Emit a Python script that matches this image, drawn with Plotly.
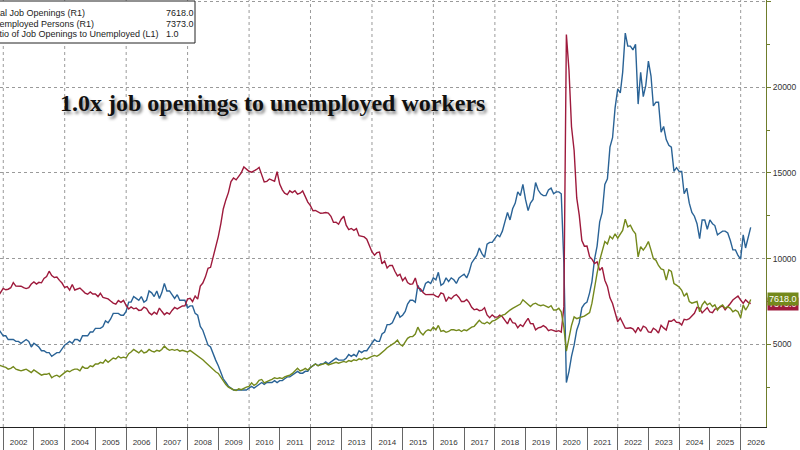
import pandas as pd
import plotly.graph_objects as go

# Monthly observations, Oct 2001 .. Apr 2026 (month-end dates)
dates = pd.date_range("2001-10-31", "2026-04-30", freq="ME")

job_openings = [
    3850, 3750, 3700,
    3650, 3550, 3600, 3700, 3550, 3500, 3450, 3500, 3550, 3450, 3350, 3500,
    3400, 3350, 3200, 3250, 3250, 3300, 3050, 3150, 3200, 3100, 3250, 3350,
    3450, 3400, 3500, 3550, 3550, 3450, 3700, 3600, 3600, 3750, 3700, 3850,
    3850, 3950, 3900, 4100, 3950, 4050, 4200, 4150, 4300, 4200, 4250, 4200,
    4450, 4550, 4700, 4600, 4500, 4650, 4500, 4550, 4700, 4600, 4550, 4650,
    4600, 4700, 4900, 4750, 4650, 4700, 4650, 4700, 4600, 4650, 4600, 4550,
    4650, 4550, 4450, 4300, 4200, 4100, 3950, 3800, 3700, 3550, 3400, 3300,
    3050, 2850, 2650, 2500, 2400, 2350, 2300, 2400, 2350, 2450, 2500, 2550,
    2750, 2600, 2700, 2900, 2950, 2750, 2850, 2900, 2950, 3050, 3000, 3050,
    3000, 3100, 3150, 3200, 3300, 3450, 3600, 3450, 3500, 3600, 3500, 3650,
    3750, 3850, 3750, 3800, 3850, 3900, 3800, 3850, 3900, 3950, 3900, 3950,
    4000, 3950, 4050, 4000, 4100, 4050, 4150, 4100, 4200, 4150, 4250, 4300,
    4350, 4300, 4400, 4500, 4650, 4800, 4900, 5000, 5100, 5250, 5000, 4900,
    5150, 5350, 5450, 5450, 5600, 6000, 5700, 5550, 5750, 5850, 5800, 6000,
    5850, 6100, 5750, 5800, 5700, 5750, 5850, 5850, 5800, 5850, 5750, 5850,
    5800, 5900, 6000, 6050, 6200, 6400, 6250, 6200, 6300, 6200, 6350, 6400,
    6500, 6600, 6700, 6750, 6900, 7000, 7100, 7200, 7300, 7350, 7600, 7450,
    7300, 7200, 7350, 7400, 7300, 7250, 7300, 7200, 7150, 7250, 7000, 7000,
    7100, 6900, 6000, 4600, 5400, 6100, 6600, 6500, 6550, 6600, 6650, 6750,
    6850, 7400, 8350, 9150, 9900, 10500, 11000, 10850, 11300, 11150, 11450, 11200,
    11450, 11650, 12300, 11850, 11950, 11650, 11450, 10100, 10700, 10500, 10700, 11000,
    10500, 10000, 9900, 9600, 9400, 9350, 8750, 9350, 9250, 8550, 8450, 8350,
    8150, 7800, 8000, 7500, 7400, 7450, 7500, 6900, 7300, 7500, 7300, 7400,
    7200, 7300, 7000, 7200, 7300, 7100, 7200, 7100, 6900, 7000, 6900, 6550,
    7300, 7000, 7250, 7618,
]

unemployed = [
    7800, 8000, 8258,
    8182, 8215, 8304, 8599, 8399, 8393, 8390, 8304, 8251, 8307, 8520, 8640,
    8520, 8618, 8588, 8842, 8957, 9266, 9011, 8896, 8921, 8732, 8576, 8317,
    8370, 8167, 8491, 8170, 8212, 8286, 8136, 7990, 7927, 8061, 7932, 7934,
    7784, 7980, 7737, 7672, 7651, 7524, 7406, 7345, 7553, 7453, 7566, 7279,
    7064, 7184, 7072, 7120, 6980, 7001, 7175, 7091, 6847, 6727, 6872, 6762,
    7116, 6927, 6731, 6850, 6766, 6979, 7149, 7067, 7170, 7237, 7240, 7645,
    7685, 7497, 7822, 7637, 8395, 8575, 8937, 9438, 9494, 10074, 10538, 11286,
    12058, 12898, 13426, 13853, 14499, 14707, 14601, 14814, 15009, 15352, 15219, 15098,
    15046, 15113, 15202, 15325, 14849, 14474, 14512, 14648, 14579, 14516, 15081, 14348,
    14013, 13820, 13737, 13957, 13855, 13962, 13763, 13818, 13948, 13594, 13302, 13093,
    12797, 12813, 12713, 12646, 12660, 12692, 12656, 12471, 12115, 12124, 12005, 12298,
    12471, 11950, 11689, 11760, 11654, 11751, 11335, 11279, 11270, 11136, 10787, 10404,
    10202, 10349, 10380, 9702, 9859, 9460, 9608, 9599, 9262, 8990, 9090, 8717,
    8903, 8610, 8504, 8526, 8875, 8299, 8242, 8016, 7899, 7915, 7927, 7907,
    7815, 7749, 7996, 7938, 7498, 7752, 7651, 7819, 7904, 7734, 7498, 7501,
    7613, 7448, 7164, 7013, 7059, 6965, 6994, 7131, 6714, 6555, 6719, 6592,
    6585, 6705, 6609, 6375, 6191, 6531, 6260, 6218, 5966, 6149, 6039, 6297,
    6520, 6212, 6203, 5846, 5959, 5995, 6087, 5990, 5801, 5855, 5803, 5753,
    5796, 5717, 7185, 23078, 20985, 17697, 16308, 13542, 12535, 11049, 10728, 10736,
    10117, 9975, 9710, 9812, 9316, 9484, 8743, 8382, 7714, 7383, 6856, 6319,
    6535, 6270, 5952, 5938, 5967, 5898, 5693, 5991, 5761, 6059, 5986, 5722,
    5694, 5938, 5839, 5657, 6106, 5957, 5836, 6355, 6347, 6451, 6279, 6270,
    6124, 6458, 6429, 6492, 6649, 6811, 7163, 7115, 6834, 6984, 7142, 6886,
    6849, 7052, 7083, 7166, 7237, 7015, 7236, 7384, 7585, 7700, 7818, 7585,
    7390, 7600, 7450, 7373,
]

ratio = [
    0.49, 0.47, 0.45,
    0.45, 0.43, 0.43, 0.43, 0.42, 0.42, 0.41, 0.42, 0.43, 0.42, 0.39, 0.41,
    0.40, 0.39, 0.37, 0.37, 0.36, 0.36, 0.34, 0.35, 0.36, 0.36, 0.38, 0.40,
    0.41, 0.42, 0.41, 0.43, 0.43, 0.42, 0.45, 0.45, 0.45, 0.47, 0.47, 0.49,
    0.49, 0.49, 0.50, 0.53, 0.52, 0.54, 0.57, 0.57, 0.57, 0.56, 0.56, 0.58,
    0.63, 0.63, 0.66, 0.65, 0.64, 0.66, 0.63, 0.64, 0.69, 0.68, 0.66, 0.69,
    0.65, 0.68, 0.73, 0.69, 0.69, 0.67, 0.65, 0.67, 0.64, 0.64, 0.64, 0.60,
    0.61, 0.61, 0.57, 0.56, 0.50, 0.48, 0.44, 0.40, 0.39, 0.35, 0.32, 0.29,
    0.25, 0.22, 0.20, 0.18, 0.17, 0.16, 0.16, 0.16, 0.16, 0.16, 0.16, 0.17,
    0.18, 0.17, 0.18, 0.19, 0.20, 0.19, 0.20, 0.20, 0.20, 0.21, 0.20, 0.21,
    0.21, 0.22, 0.23, 0.23, 0.24, 0.25, 0.26, 0.25, 0.25, 0.26, 0.26, 0.28,
    0.29, 0.30, 0.29, 0.30, 0.30, 0.31, 0.30, 0.31, 0.32, 0.33, 0.32, 0.32,
    0.32, 0.33, 0.35, 0.34, 0.35, 0.34, 0.37, 0.36, 0.37, 0.37, 0.39, 0.41,
    0.43, 0.42, 0.42, 0.46, 0.47, 0.51, 0.51, 0.52, 0.55, 0.58, 0.55, 0.56,
    0.58, 0.62, 0.64, 0.64, 0.63, 0.72, 0.69, 0.69, 0.73, 0.74, 0.73, 0.76,
    0.75, 0.79, 0.72, 0.73, 0.76, 0.74, 0.76, 0.75, 0.73, 0.76, 0.77, 0.78,
    0.76, 0.79, 0.84, 0.86, 0.88, 0.92, 0.89, 0.87, 0.94, 0.95, 0.95, 0.97,
    0.99, 0.98, 1.01, 1.06, 1.11, 1.07, 1.13, 1.16, 1.22, 1.20, 1.26, 1.18,
    1.12, 1.16, 1.18, 1.27, 1.23, 1.21, 1.20, 1.20, 1.23, 1.24, 1.21, 1.22,
    1.22, 1.21, 0.84, 0.20, 0.26, 0.34, 0.40, 0.48, 0.52, 0.60, 0.62, 0.63,
    0.68, 0.74, 0.86, 0.93, 1.06, 1.11, 1.26, 1.29, 1.46, 1.51, 1.67, 1.77,
    1.75, 1.86, 2.07, 2.00, 2.00, 1.98, 2.01, 1.69, 1.86, 1.73, 1.79, 1.92,
    1.84, 1.68, 1.70, 1.70, 1.54, 1.57, 1.50, 1.47, 1.46, 1.33, 1.35, 1.33,
    1.33, 1.21, 1.24, 1.16, 1.11, 1.09, 1.05, 0.97, 1.07, 1.07, 1.02, 1.07,
    1.05, 1.04, 0.99, 1.00, 1.01, 1.01, 1.00, 0.96, 0.91, 0.91, 0.88, 0.86,
    0.99, 0.92, 0.97, 1.03,
]

series_names = ["Total Job Openings (R1)", "Unemployed Persons (R1)",
                "Ratio of Job Openings to Unemployed (L1)"]
last_values = ["7618.0", "7373.0", "1.0"]
grid_years = list(range(2002, 2027, 2))
right_ticks = [5000, 10000, 15000, 20000, 25000]
right_tick_text = ["5000", "10000", "15000", "20000", ""]
right_minor = [2500, 7500, 12500, 17500, 22500]
title_text = "1.0x job openings to unemployed workers"

GREEN = "#74891c"
RED = "#9e1a3c"
BLUE = "#2a6396"
AXIS_OLIVE = "#6f7d2c"
FONT = "Liberation Sans"

PLOT_W = 766
PLOT_H = 427


def px(x):
    return x / PLOT_W


def py(y):
    return 1 - y / PLOT_H


fig = go.Figure()
fig.add_trace(go.Scatter(x=dates, y=ratio, mode="lines", yaxis="y",
                         line=dict(color=BLUE, width=1.4), name=series_names[2]))
fig.add_trace(go.Scatter(x=dates, y=unemployed, mode="lines", yaxis="y2",
                         line=dict(color=RED, width=1.4), name=series_names[1]))
fig.add_trace(go.Scatter(x=dates, y=job_openings, mode="lines", yaxis="y2",
                         line=dict(color=GREEN, width=1.4), name=series_names[0]))

shapes = []
for yr in grid_years:
    shapes.append(dict(type="line", xref="x", yref="paper",
                       x0=f"{yr}-01-01", x1=f"{yr}-01-01", y0=0, y1=1,
                       line=dict(color="#9a9a9a", width=1, dash="dot"),
                       layer="below"))
# legend box (partly cut off at the left edge, like the source)
shapes.append(dict(type="rect", xref="paper", yref="paper",
                   x0=px(-8), x1=px(195), y0=py(43), y1=py(1),
                   line=dict(color="#222222", width=1), fillcolor="white",
                   layer="above"))

annotations = []
row_y = [13, 24, 34.5]
for name, val, yy in zip(series_names, last_values, row_y):
    annotations.append(dict(xref="paper", yref="paper", x=px(-14), y=py(yy),
                            xanchor="left", yanchor="middle", showarrow=False,
                            text=name, font=dict(family=FONT, size=9, color="#222")))
    annotations.append(dict(xref="paper", yref="paper", x=px(164), y=py(yy),
                            xanchor="left", yanchor="middle", showarrow=False,
                            text=val, font=dict(family=FONT, size=9, color="#222")))

annotations.append(dict(xref="paper", yref="paper", x=px(58), y=py(103),
                        xanchor="left", yanchor="middle", showarrow=False,
                        text=title_text,
                        font=dict(family="Liberation Serif", size=24, color="#111",
                                  weight="bold",
                                  shadow="2px 3px 3px rgba(0,0,0,0.45)")))

# last-value tags on the right axis
annotations.append(dict(xref="paper", yref="y2", x=1, y=unemployed[-1],
                        xanchor="left", yanchor="middle", xshift=1, showarrow=False,
                        text=f"{unemployed[-1]:.1f}", bgcolor=RED, borderpad=1,
                        font=dict(family=FONT, size=9, color="white")))
annotations.append(dict(xref="paper", yref="y2", x=1, y=job_openings[-1],
                        xanchor="left", yanchor="middle", xshift=1, showarrow=False,
                        text=f"{job_openings[-1]:.1f}", bgcolor=GREEN, borderpad=1,
                        font=dict(family=FONT, size=9, color="white")))

fig.update_layout(
    width=800, height=450,
    margin=dict(l=0, r=800 - PLOT_W, t=0, b=450 - PLOT_H),
    paper_bgcolor="white", plot_bgcolor="white",
    showlegend=False,
    shapes=shapes,
    annotations=annotations,
    xaxis=dict(
        type="date",
        range=["2001-11-23", "2026-10-29"],
        dtick="M12", tick0="2002-01-01",
        ticklabelmode="period", tickformat="%Y",
        ticks="outside", ticklen=23, tickcolor="#666", tickwidth=1,
        ticklabelstandoff=-16,
        showgrid=False, zeroline=False,
        showline=True, linecolor="#222", linewidth=1,
        tickfont=dict(family=FONT, size=8, color="#333"),
    ),
    yaxis=dict(visible=False, range=[-0.038, 2.247], fixedrange=True),
    yaxis2=dict(
        overlaying="y", side="right", anchor="x",
        range=[175, 25093],
        tickmode="array", tickvals=right_ticks, ticktext=right_tick_text,
        showgrid=True, gridcolor="#9a9a9a", griddash="dot", gridwidth=1,
        zeroline=False,
        showline=True, linecolor=AXIS_OLIVE, linewidth=1,
        ticks="outside", ticklen=4, tickcolor=AXIS_OLIVE,
        minor=dict(tickmode="array", tickvals=right_minor, ticks="outside",
                   ticklen=3, tickcolor=AXIS_OLIVE, showgrid=False),
        tickfont=dict(family=FONT, size=8.5, color="#333"),
    ),
)

fig.write_html("out.html")
